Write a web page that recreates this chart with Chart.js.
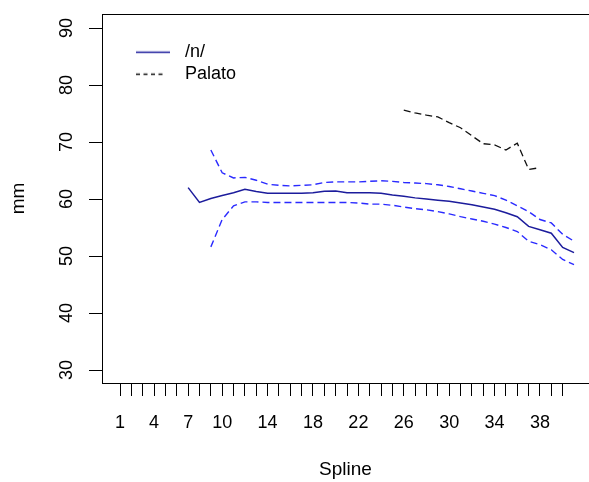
<!DOCTYPE html>
<html>
<head>
<meta charset="utf-8">
<script src="https://cdn.jsdelivr.net/npm/chart.js@4"></script>
<style>
  html, body { margin: 0; padding: 0; background: #fff; overflow: hidden; }
</style>
</head>
<body>
<canvas id="myChart" width="589" height="482"></canvas>
<script>
// spline positions along the tongue contour
const splinePos = [1, 2, 3, 4, 5, 6, 7, 8, 9, 10, 11, 12, 13, 14, 15, 16, 17, 18, 19, 20,
  21, 22, 23, 24, 25, 26, 27, 28, 29, 30, 31, 32, 33, 34, 35, 36, 37, 38, 39, 40, 41];

// /n/ mean + confidence band (mm)
const nMean = [null, null, null, null, null, null, 62.0, 59.4, 60.1, 60.6,
  61.1, 61.7, 61.3, 61.0, 61.0, 61.0, 61.0, 61.1, 61.35, 61.4,
  61.1, 61.1, 61.1, 61.0, 60.7, 60.5, 60.2, 60.0, 59.8, 59.6,
  59.3, 59.0, 58.6, 58.2, 57.6, 56.9, 55.2, 54.6, 54.0, 51.5, 50.6];
const nUpper = [null, null, null, null, null, null, null, null, 68.6, 64.6,
  63.7, 63.8, 63.3, 62.6, 62.4, 62.3, 62.4, 62.5, 62.9, 63.0,
  63.0, 63.0, 63.1, 63.2, 63.1, 62.9, 62.8, 62.7, 62.5, 62.2,
  61.8, 61.4, 61.0, 60.6, 59.8, 58.8, 57.8, 56.4, 55.8, 53.8, 52.6];
const nLower = [null, null, null, null, null, null, null, null, 51.6, 56.4,
  58.8, 59.5, 59.5, 59.4, 59.4, 59.4, 59.4, 59.4, 59.4, 59.4,
  59.4, 59.3, 59.1, 59.1, 58.9, 58.6, 58.3, 58.1, 57.8, 57.4,
  56.9, 56.5, 56.1, 55.6, 55.0, 54.3, 52.6, 52.0, 51.1, 49.4, 48.5];
const palato = [null, null, null, null, null, null, null, null, null, null,
  null, null, null, null, null, null, null, null, null, null,
  null, null, null, null, null, 75.6, 75.1, 74.7, 74.4, 73.4,
  72.5, 71.1, 69.7, 69.5, 68.6, 69.8, 65.2, 65.5, null, null, null];

const xTicks = [1, 2, 3, 4, 5, 6, 7, 8, 9, 10, 11, 12, 13, 14, 15, 16, 17, 18, 19, 20,
  21, 22, 23, 24, 25, 26, 27, 28, 29, 30, 31, 32, 33, 34, 35, 36, 37, 38, 39, 40];
const xLabels = [1, 4, 7, 10, 14, 18, 22, 26, 30, 34, 38];
const yTicks = [30, 40, 50, 60, 70, 80, 90];

const FONT = "'Liberation Sans', Arial, sans-serif";
const DASH = [7, 4];

function pts(vals) {
  return splinePos.map((p, i) => ({x: p, y: vals[i]}));
}

// legend key: short line sample with room on its left
function keyLine(color, dash, width, len) {
  const c = document.createElement('canvas');
  c.width = 70; c.height = 10;
  const g = c.getContext('2d');
  g.strokeStyle = color;
  g.lineWidth = width;
  g.setLineDash(dash);
  g.beginPath();
  g.moveTo(30, 5.5);
  g.lineTo(30 + len, 5.5);
  g.stroke();
  return c;
}

const ctx = document.getElementById('myChart').getContext('2d');
new Chart(ctx, {
  type: 'line',
  data: {
    datasets: [
      { label: '/n/', data: pts(nMean), borderColor: '#1c1c9c', borderWidth: 1.5,
        pointRadius: 0, tension: 0, fill: false },
      { label: 'upper', data: pts(nUpper), borderColor: '#2a2aff', borderWidth: 1.4,
        borderDash: DASH, pointRadius: 0, tension: 0, fill: false },
      { label: 'lower', data: pts(nLower), borderColor: '#2a2aff', borderWidth: 1.4,
        borderDash: DASH, pointRadius: 0, tension: 0, fill: false },
      { label: 'Palato', data: pts(palato), borderColor: '#111', borderWidth: 1.3,
        borderDash: DASH, pointRadius: 0, tension: 0, fill: false }
    ]
  },
  options: {
    responsive: false,
    animation: false,
    devicePixelRatio: 1,
    layout: { padding: { top: 14, right: 0, bottom: 0, left: 0 } },
    scales: {
      x: {
        type: 'linear',
        position: 'bottom',
        min: -0.59,
        max: 42.32,
        afterBuildTicks: s => { s.ticks = xTicks.map(v => ({value: v})); },
        afterFit: s => { s.height = 99; s.paddingLeft = 0; s.paddingRight = 0; },
        ticks: {
          autoSkip: false,
          maxRotation: 0,
          padding: 16,
          color: '#000',
          font: { family: FONT, size: 18 },
          callback: v => xLabels.includes(v) ? String(v) : ''
        },
        grid: { display: true, drawOnChartArea: false, tickLength: 13, color: '#000', lineWidth: 1 },
        border: { display: true, color: '#000', width: 1 },
        title: { display: true, text: 'Spline', color: '#000',
          font: { family: FONT, size: 19 }, padding: { top: 0, bottom: 1 } }
      },
      xTop: {
        type: 'linear',
        position: 'top',
        min: -0.59,
        max: 42.32,
        ticks: { display: false },
        grid: { display: false, drawTicks: false },
        border: { display: true, color: '#000', width: 1 }
      },
      y: {
        type: 'linear',
        position: 'left',
        min: 27.72,
        max: 92.46,
        afterBuildTicks: s => { s.ticks = yTicks.map(v => ({value: v})); },
        afterFit: s => { s.width = 102; s.paddingTop = 0; s.paddingBottom = 0; },
        ticks: {
          minRotation: 90,
          maxRotation: 90,
          crossAlign: 'center',
          padding: 12,
          color: '#000',
          font: { family: FONT, size: 18 }
        },
        grid: { display: true, drawOnChartArea: false, tickLength: 13, color: '#000', lineWidth: 1 },
        border: { display: true, color: '#000', width: 1 },
        title: { display: true, text: 'mm', color: '#000',
          font: { family: FONT, size: 19 }, padding: { top: 7, bottom: 0 } }
      }
    },
    plugins: {
      tooltip: { enabled: false },
      legend: {
        position: 'chartArea',
        align: 'start',
        title: { display: true, text: '', font: { size: 10 }, padding: { top: 0, bottom: 26.7 } },
        labels: {
          color: '#000',
          font: { family: FONT, size: 18 },
          padding: 4,
          usePointStyle: true,
          pointStyleWidth: 70,
          filter: item => item.text === '/n/' || item.text === 'Palato',
          generateLabels: chart => {
            const items = Chart.defaults.plugins.legend.labels.generateLabels(chart);
            items.forEach(it => {
              it.pointStyle = it.text === '/n/'
                ? keyLine('#1c1c9c', [], 1.5, 34)
                : keyLine('#111', [4, 3.5], 1.3, 27);
            });
            return items;
          }
        }
      }
    }
  }
});
</script>
</body>
</html>
